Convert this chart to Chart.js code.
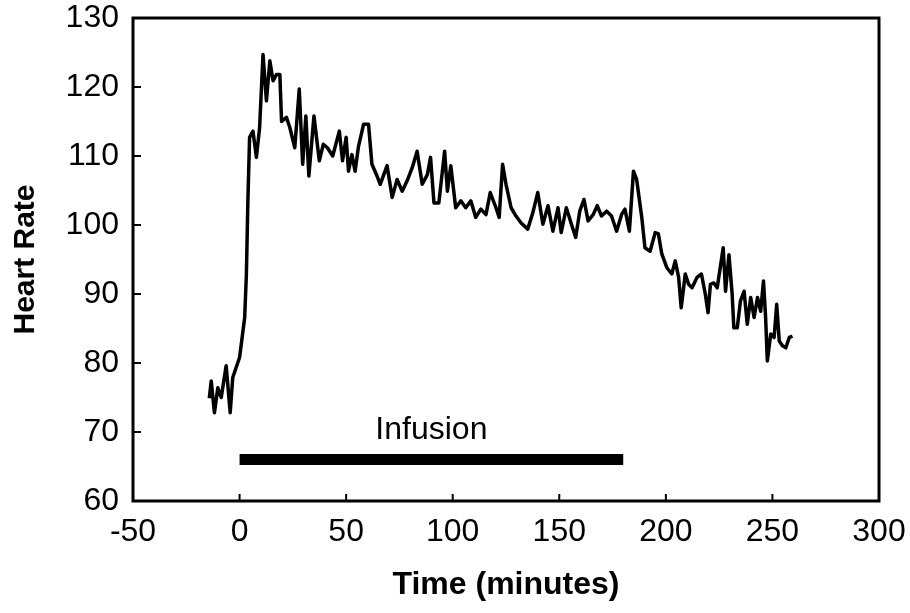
<!DOCTYPE html>
<html>
<head>
<meta charset="utf-8">
<script src="https://cdn.jsdelivr.net/npm/chart.js@4.4.1/dist/chart.umd.min.js"></script>
<style>
  html, body { margin: 0; padding: 0; background: #ffffff; }
  #wrap { width: 910px; height: 613px; position: relative; }
</style>
</head>
<body>
<div id="wrap"><canvas id="c" width="910" height="613"></canvas></div>
<script>
// ---- Data ----
const timeMinutes = [
  -14.2,-13.3,-11.8,-10.2,-8.6,-6.3,-4.4,-3.2,0,2.4,
  3.2,3.9,4.7,6.3,7.9,9.4,11,12.6,14.2,15.7,
  17.3,18.9,19.7,22,23.6,25.9,28,29.6,31.1,32.5,
  34.9,37.4,39.3,41.2,43.7,46.8,48.3,50,51.1,52.7,
  54.2,55.8,58.2,60.5,62.1,64.5,66,69.2,71.6,73.9,
  76.3,78.6,81,83.3,85.7,88.1,89.6,91.2,93.5,96.2,
  97.5,99.1,101.4,103.8,106.1,108.5,110.8,113.2,115.6,117.6,
  120.3,121.8,123.4,125,127.4,129.7,132.1,135.2,137.6,139.9,
  142.3,144.7,147,149.4,150.9,153.3,155.7,157.7,159.6,161.6,
  163.5,165.9,167.8,169.8,172.2,174.5,176.9,179.2,180.8,182.9,
  184.8,186.3,188.7,190.2,192.6,195,196.5,198.1,200.5,202.8,
  204.4,206,207.2,209.1,210.7,212.3,214.6,216.7,218.5,219.8,
  220.9,222.5,224.1,226.9,228,229.6,231.1,231.9,233.5,235,
  236.7,238.2,239.8,241.4,243,244.5,245.8,246.8,247.6,249.2,
  250.8,252,253.2,254.7,256.3,257.9,259.4
];
const heartRate = [
  74.9,77.4,72.8,76.4,75,79.6,72.8,77.9,80.8,86.6,
  92.9,103.5,112.7,113.6,109.8,114.1,124.7,118,123.8,120.9,
  121.8,121.8,115,115.6,114.1,111.2,119.7,108.8,115.8,107.1,
  115.8,109.3,111.7,111.2,110,113.6,109.3,112.7,107.8,110.2,
  107.8,111.4,114.6,114.6,108.8,107.1,105.9,108.6,104,106.6,
  104.9,106.4,108.3,110.7,105.9,107.3,109.8,103.2,103.2,110.7,
  104.9,108.6,102.5,103.5,102.5,103.5,101.1,102.3,101.5,104.7,
  102.5,101.1,108.8,105.9,102.5,101.3,100.3,99.4,101.8,104.7,
  100.1,102.8,99.1,102.5,98.9,102.5,100.1,98.2,102,103.7,
  100.6,101.5,102.8,101.3,102,101.3,99.1,101.5,102.3,99.1,
  107.8,106.6,101.1,96.7,96.2,98.9,98.7,95.8,93.8,92.9,
  94.8,92.4,88,92.9,91.4,90.9,92.4,92.9,90,87.3,
  91.4,91.6,90.9,96.7,90.4,95.7,90,85.1,85.1,89,
  90.4,85.6,89.5,86.6,89.5,87.5,91.9,86.6,80.3,84.2,
  83.7,88.5,83.2,82.5,82.2,83.7,83.9
];
const infusionTimes = [0, 180];
const infusionLevel = 66;
const infusionLabel = "Infusion";
const infusionLabelPos = { x: 90, y: 70.3 };
const xTicks = [-50, 0, 50, 100, 150, 200, 250, 300];
const yTicks = [60, 70, 80, 90, 100, 110, 120, 130];
const xTitle = "Time (minutes)";
const yTitle = "Heart Rate";

// ---- Build chart ----
const hrPoints = timeMinutes.map((t, i) => ({ x: t, y: heartRate[i] }));
const infusionPoints = infusionTimes.map(t => ({ x: t, y: infusionLevel }));

const FONT = "'Liberation Sans', Arial, Helvetica, sans-serif";

const framePlugin = {
  id: 'frame',
  afterDraw(chart) {
    const { ctx, chartArea: a, scales } = chart;
    ctx.save();
    ctx.strokeStyle = '#000';
    ctx.lineWidth = 3;
    ctx.strokeRect(a.left, a.top, a.right - a.left, a.bottom - a.top);
    ctx.lineWidth = 2;
    ctx.beginPath();
    xTicks.forEach(v => {
      const px = scales.x.getPixelForValue(v);
      ctx.moveTo(px, a.bottom);
      ctx.lineTo(px, a.bottom - 7);
    });
    yTicks.forEach(v => {
      const py = scales.y.getPixelForValue(v);
      ctx.moveTo(a.left, py);
      ctx.lineTo(a.left + 8, py);
    });
    ctx.stroke();
    // Infusion label
    ctx.fillStyle = '#000';
    ctx.font = "32px " + FONT;
    ctx.textAlign = 'center';
    ctx.textBaseline = 'middle';
    ctx.fillText(infusionLabel,
      scales.x.getPixelForValue(infusionLabelPos.x),
      scales.y.getPixelForValue(infusionLabelPos.y));
    ctx.restore();
  }
};

new Chart(document.getElementById('c'), {
  type: 'line',
  data: {
    datasets: [
      {
        label: 'Heart Rate',
        data: hrPoints,
        borderColor: '#000',
        borderWidth: 3.5,
        pointRadius: 0,
        tension: 0,
        fill: false,
        borderJoinStyle: 'round'
      },
      {
        label: 'Infusion',
        data: infusionPoints,
        borderColor: '#000',
        borderWidth: 11,
        pointRadius: 0,
        borderCapStyle: 'butt',
        fill: false
      }
    ]
  },
  options: {
    responsive: false,
    animation: false,
    devicePixelRatio: 1,
    layout: { padding: { top: 18, right: 31, left: 0, bottom: 0 } },
    plugins: { legend: { display: false }, tooltip: { enabled: false } },
    scales: {
      x: {
        type: 'linear',
        min: -50, max: 300,
        afterBuildTicks(scale) { scale.ticks = xTicks.map(v => ({ value: v })); },
        afterFit(scale) { scale.height = 112; scale.paddingLeft = 0; scale.paddingRight = 0; },
        grid: { display: false, drawTicks: false },
        border: { display: false },
        ticks: { color: '#000', font: { family: FONT, size: 32 }, padding: 12, maxRotation: 0, autoSkip: false },
        title: { display: true, text: xTitle, color: '#000', font: { family: FONT, size: 32, weight: 'bold' }, padding: { top: 0, bottom: 9 } }
      },
      y: {
        type: 'linear',
        min: 60, max: 130,
        afterBuildTicks(scale) { scale.ticks = yTicks.map(v => ({ value: v })); },
        afterFit(scale) { scale.width = 133; scale.paddingTop = 0; scale.paddingBottom = 0; },
        grid: { display: false, drawTicks: false },
        border: { display: false },
        ticks: { color: '#000', font: { family: FONT, size: 32 }, padding: 14, autoSkip: false },
        title: { display: true, text: yTitle, color: '#000', font: { family: FONT, size: 30, weight: 'bold' }, padding: { top: 8, bottom: 0 } }
      }
    }
  },
  plugins: [framePlugin]
});
</script>
</body>
</html>
